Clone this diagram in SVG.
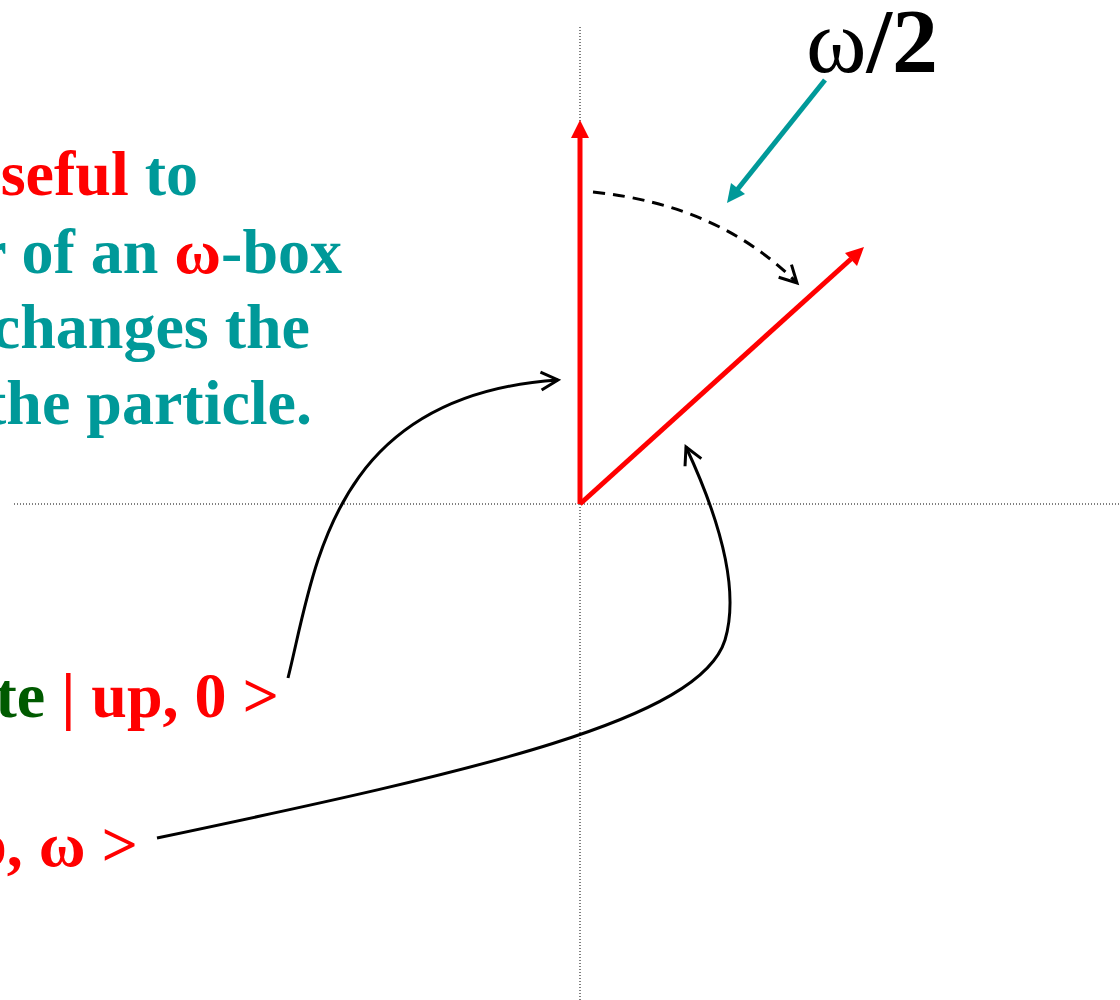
<svg xmlns="http://www.w3.org/2000/svg" width="1120" height="1000" viewBox="0 0 1120 1000">
<style>
.t{font-family:"Liberation Serif","Times New Roman",serif;font-weight:bold;font-size:64px}
.teal{fill:#009999}.red{fill:#FF0000}.green{fill:#005A00}
.axis{stroke:#000;stroke-width:1;stroke-dasharray:1 2;fill:none}
.blk{stroke:#000;stroke-width:3;fill:none}
</style>
<defs>
<marker id="open" viewBox="0 0 20 20" refX="18" refY="10" markerWidth="20" markerHeight="20" markerUnits="userSpaceOnUse" orient="auto" overflow="visible">
<path d="M1,1 L18,10 L1,19" fill="none" stroke="#000" stroke-width="3" stroke-linejoin="miter"/>
</marker>
</defs>
<rect width="1120" height="1000" fill="#fff"/>
<g id="axes">
<line class="axis" x1="580" y1="27" x2="580" y2="1000"/>
<line class="axis" x1="14" y1="504" x2="1120" y2="504"/>
</g>
<g id="text-block">
<text class="t" x="198" y="195" text-anchor="end"><tspan class="red">seful</tspan><tspan class="teal"> to</tspan></text>
<text class="t teal" x="342" y="273" text-anchor="end">r of an <tspan class="red">ω</tspan>-box</text>
<text class="t teal" x="310" y="348" text-anchor="end">changes the</text>
<text class="t teal" x="312" y="424" text-anchor="end">the particle.</text>
</g>
<g id="label-up0">
<text class="t" x="279" y="717" text-anchor="end"><tspan class="green">te</tspan><tspan class="red"> | up, 0 &gt;</tspan></text>
</g>
<g id="label-upw">
<text class="t red" x="138" y="866" text-anchor="end">up, ω &gt;</text>
</g>
<g id="label-w2">
<text x="938" y="72" text-anchor="end" font-family="'Liberation Serif','Times New Roman',serif" font-size="92" fill="#000"><tspan>ω</tspan><tspan font-weight="bold">/2</tspan></text>
</g>
<g id="vectors">
<line x1="580" y1="504" x2="580" y2="136" stroke="#FF0000" stroke-width="5"/>
<polygon points="580,120 571,138 589,138" fill="#FF0000"/>
<line x1="580" y1="504" x2="851" y2="259" stroke="#FF0000" stroke-width="5"/>
<polygon points="864,247 845,253 857,266" fill="#FF0000"/>
</g>
<g id="connectors">
<line x1="825" y1="80" x2="737" y2="190" stroke="#009999" stroke-width="5"/>
<polygon points="727,203 731,183 745,194" fill="#009999"/>
<path d="M593,192 Q720,205 797,283" stroke="#000" stroke-width="3" fill="none" stroke-dasharray="12 8" marker-end="url(#open)"/>
<path class="blk" d="M288,678 C315,570 330,395 558,380" marker-end="url(#open)"/>
<path class="blk" d="M157,838 C480,770 700,720 725,640 C740,590 720,520 686,447" marker-end="url(#open)"/>
</g>
</svg>
